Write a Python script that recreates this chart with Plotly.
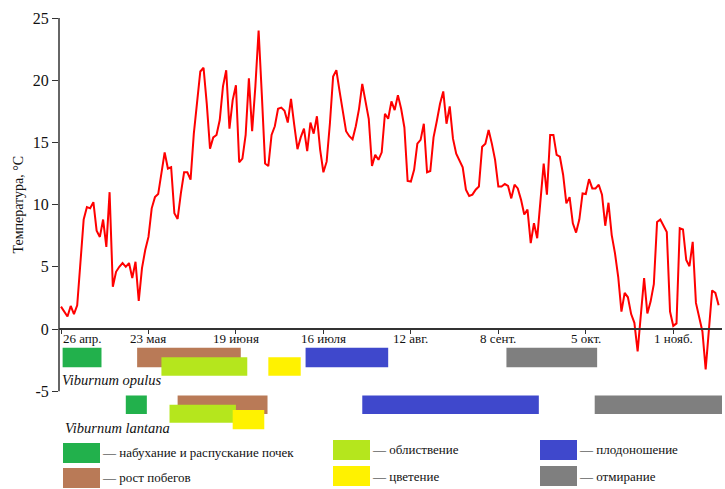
import plotly.graph_objects as go
import pandas as pd

# ---------------- data ----------------
temps = [
    1.8, 1.4, 1.0, 1.85, 1.2, 1.9, 5.0, 8.8, 9.8, 9.7,
    10.2, 7.9, 7.4, 8.8, 6.6, 11.0, 3.4, 4.6, 5.0, 5.3,
    5.0, 5.3, 4.1, 5.4, 2.25, 4.9, 6.35, 7.4, 9.7, 10.6,
    10.85, 12.5, 14.2, 12.9, 13.0, 9.3, 8.85, 10.9, 12.6, 12.6,
    12.0, 15.7, 18.3, 20.7, 21.0, 18.1, 14.5, 15.4, 15.6, 16.8,
    19.5, 20.8, 16.1, 18.4, 19.6, 13.4, 13.7, 15.6, 20.15, 15.9,
    19.5, 24.0, 18.8, 13.3, 13.1, 15.6, 16.3, 17.7, 17.8, 17.55,
    16.6, 18.5, 16.4, 14.45, 15.4, 16.1, 14.3, 16.6, 15.7, 17.1,
    14.4, 12.6, 13.45, 16.5, 20.3, 20.8, 19.1, 17.5, 15.9, 15.5,
    15.25, 16.3, 17.7, 19.7, 18.4, 16.9, 13.1, 14.0, 13.6, 14.2,
    17.3, 16.9, 18.3, 17.6, 18.8, 17.7, 16.2, 11.9, 11.85, 12.8,
    14.9, 15.2, 16.5, 12.6, 12.7, 15.4, 16.7, 18.1, 19.1, 16.5,
    17.9, 15.3, 14.1, 13.6, 13.0, 11.2, 10.7, 10.8, 11.2, 11.45,
    14.65, 14.9, 16.0, 14.9, 13.6, 11.45, 11.45, 11.65, 11.5, 10.5,
    11.6, 11.3, 10.4, 9.2, 9.6, 6.9, 8.5, 7.3, 10.5, 13.3,
    10.8, 15.6, 15.6, 14.0, 13.85, 12.4, 10.1, 10.6, 8.5, 7.75,
    8.8, 10.9, 10.85, 12.05, 11.3, 11.3, 11.6, 10.8, 8.3, 10.15,
    7.55, 6.1, 4.2, 1.4, 2.9, 2.55, 1.2, 0.5, -1.8, 0.9,
    4.1, 1.25, 2.2, 3.6, 8.6, 8.8, 8.3, 7.8, 1.4, 0.25,
    0.45, 8.1, 8.0, 5.55, 5.05, 7.0, 2.1, 1.0, -0.2, -3.25,
    -0.1, 3.1, 2.9, 1.9,
]
dates = pd.date_range("2021-04-26", periods=len(temps), freq="D")

tick_dates = ["2021-04-26", "2021-05-23", "2021-06-19", "2021-07-16",
              "2021-08-12", "2021-09-08", "2021-10-05", "2021-11-01"]
tick_labels = ["26 апр.", "23 мая", "19 июня", "16 июля",
               "12 авг.", "8 сент.", "5 окт.", "1 нояб."]
y_ticks = [-5, 0, 5, 10, 15, 20, 25]

phase_names = ["набухание и распускание почек", "рост побегов", "облиствение",
               "цветение", "плодоношение", "отмирание"]

opulus_start = ["2021-04-26 12:00", "2021-05-19 12:00", "2021-05-27 00:00",
                "2021-06-29 00:00", "2021-07-10 12:00", "2021-09-10 12:00"]
opulus_end = ["2021-05-08 12:00", "2021-06-20 12:00", "2021-06-22 12:00",
              "2021-07-09 00:00", "2021-08-05 00:00", "2021-10-08 12:00"]

lantana_start = ["2021-05-16 00:00", "2021-06-01 00:00", "2021-05-29 12:00",
                 "2021-06-18 00:00", "2021-07-28 00:00", "2021-10-07 18:00"]
lantana_end = ["2021-05-22 12:00", "2021-06-28 18:00", "2021-06-19 00:00",
               "2021-06-27 18:00", "2021-09-20 12:00", "2021-11-20 00:00"]

# ---------------- styles / layout ----------------
phase_colors = ["#22B14C", "#B97A57", "#B5E61D", "#FFF200", "#3F48CC", "#7F7F7F"]
FONT = "Liberation Serif"

# row (center, thickness) in y units for each phase
opulus_rows = [(-2.29, 1.58), (-2.29, 1.58), (-3.01, 1.48), (-3.01, 1.48),
               (-2.29, 1.58), (-2.29, 1.58)]
lantana_rows = [(-6.09, 1.49), (-6.09, 1.49), (-6.81, 1.45), (-7.29, 1.55),
                (-6.09, 1.49), (-6.09, 1.49)]

W, H = 725, 489
L, R, T, B = 59, 722, 18, 440
Y_TOP = 25.0
Y_BOT = Y_TOP - (B - T) / 12.44


def pxx(x):
    return (x - L) / (R - L)


def pxy(y):
    return (B - y) / (B - T)


fig = go.Figure()

for starts, ends, rows in [(opulus_start, opulus_end, opulus_rows),
                           (lantana_start, lantana_end, lantana_rows)]:
    for i in range(len(phase_names)):
        s = pd.Timestamp(starts[i])
        e = pd.Timestamp(ends[i])
        yc, w = rows[i]
        fig.add_trace(go.Bar(
            orientation="h", base=[s], x=[(e - s).total_seconds() * 1000],
            y=[yc], width=[w],
            marker=dict(color=phase_colors[i], line=dict(width=0)),
            showlegend=False, hoverinfo="skip",
        ))

fig.add_trace(go.Scatter(
    x=dates, y=temps, mode="lines",
    line=dict(color="#FF0000", width=2),
    showlegend=False, hoverinfo="skip",
))

x_start = pd.Timestamp("2021-04-26") - pd.Timedelta(days=(61 - L) / 3.24)
x_end = pd.Timestamp("2021-04-26") + pd.Timedelta(days=(R - 60.9) / 3.24)

fig.update_layout(
    width=W, height=H,
    margin=dict(l=L, r=W - R, t=T, b=H - B),
    paper_bgcolor="white", plot_bgcolor="white",
    barmode="overlay",
    font=dict(family=FONT, color="#111"),
    xaxis=dict(
        type="date", range=[x_start, x_end],
        anchor="free", position=pxy(329),
        showline=True, linecolor="#333", linewidth=1.5,
        ticks="outside", ticklen=4, tickcolor="#333", tickwidth=1.2,
        tickvals=tick_dates, showticklabels=False,
        showgrid=False, zeroline=False,
    ),
    yaxis=dict(
        range=[Y_BOT, Y_TOP],
        tickvals=y_ticks, ticktext=[str(v) for v in y_ticks],
        ticks="outside", ticklen=6, tickcolor="#333", tickwidth=1.2,
        tickfont=dict(size=16, family=FONT, color="#111"),
        showline=False, showgrid=False, zeroline=False,
    ),
)

# y-axis line only from -5 to 25
fig.add_shape(type="line", xref="paper", yref="y", x0=0, x1=0, y0=-5, y1=25,
              line=dict(color="#333", width=1.5))

# x tick labels
for i, (d, lab) in enumerate(zip(tick_dates, tick_labels)):
    fig.add_annotation(
        x=d, y=0, xref="x", yref="y", text=lab, showarrow=False,
        xanchor="left" if i == 0 else "center", yanchor="middle", yshift=-9.5,
        font=dict(size=13, family=FONT, color="#111"),
    )

# y axis title
fig.add_annotation(
    x=pxx(19), y=10, xref="paper", yref="y", text="Температура, °C",
    textangle=-90, showarrow=False, xanchor="center", yanchor="middle",
    font=dict(size=14, family=FONT, color="#111"),
)

# species labels
fig.add_annotation(x=pxx(60), y=pxy(380), xref="paper", yref="paper",
                   text="<i>Viburnum opulus</i>", showarrow=False,
                   xanchor="left", yanchor="middle",
                   font=dict(size=14.5, family=FONT, color="#111"))
fig.add_annotation(x=pxx(63), y=pxy(428), xref="paper", yref="paper",
                   text="<i>Viburnum lantana</i>", showarrow=False,
                   xanchor="left", yanchor="middle",
                   font=dict(size=14.5, family=FONT, color="#111"))

# legend
legend_boxes = [(63, 443), (63, 468), (333, 440), (333, 466), (540, 440), (540, 466)]
for i, name in enumerate(phase_names):
    bx, by = legend_boxes[i]
    fig.add_shape(type="rect", xref="paper", yref="paper",
                  x0=pxx(bx), x1=pxx(bx + 37), y0=pxy(by), y1=pxy(by + 20),
                  fillcolor=phase_colors[i], line=dict(width=0))
    fig.add_annotation(x=pxx(bx + 37), y=pxy(by + 10), xref="paper", yref="paper",
                       text="— " + name, showarrow=False,
                       xanchor="left", yanchor="middle",
                       font=dict(size=13, family=FONT, color="#111"))

fig.write_html("out.html",
               config={"displayModeBar": False},
               post_script="document.body.style.margin='0';document.body.style.padding='0';")
